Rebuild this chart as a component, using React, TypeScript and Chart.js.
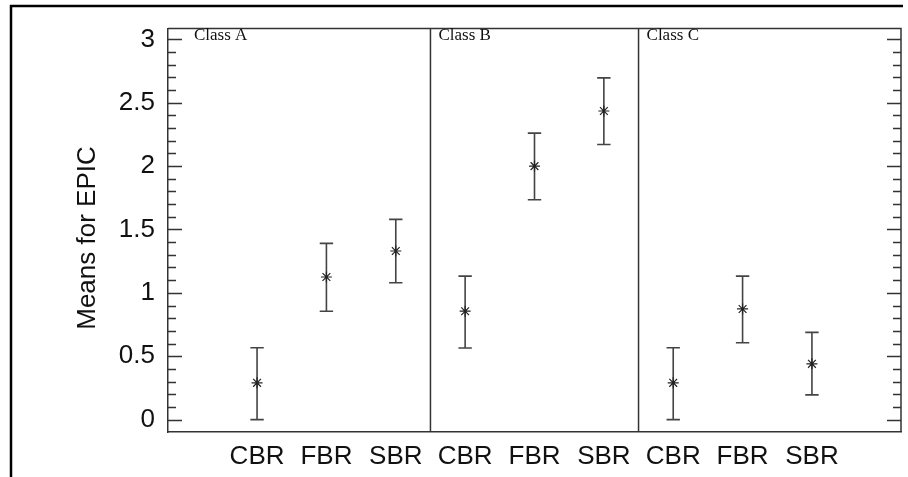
import React, { useEffect, useRef } from 'react';
import { Chart, registerables } from 'chart.js';
Chart.register(...registerables);

const categories = ['CBR', 'FBR', 'SBR', 'CBR', 'FBR', 'SBR', 'CBR', 'FBR', 'SBR'];
const means = [0.29, 1.125, 1.33, 0.855, 2.0, 2.435, 0.29, 0.873, 0.44];
const lower = [0.0, 0.855, 1.08, 0.565, 1.735, 2.17, 0.0, 0.606, 0.195];
const upper = [0.567, 1.39, 1.58, 1.132, 2.26, 2.696, 0.567, 1.132, 0.688];
const panels = ['Class A', 'Class B', 'Class C'];
const panelStarts = [-1.284, 2.5, 5.5];
const separators = [2.5, 5.5];
const yTicks = [0, 0.5, 1, 1.5, 2, 2.5, 3];
const yMinorStep = 0.1;
const yTitle = 'Means for EPIC';

const SANS = '"Liberation Sans", Arial, sans-serif';
const SERIF = '"Liberation Serif", "Times New Roman", serif';

export default function App() {
  const ref = useRef<HTMLCanvasElement>(null);
  useEffect(() => {
    const canvas = ref.current!;
    const plugin = {
      id: 'custom',
      beforeDatasetsDraw(chart: any) {
        const { ctx, chartArea: a, scales } = chart;
        const x = scales.x, y = scales.y;
        ctx.save();
        ctx.strokeStyle = '#333';
        ctx.lineWidth = 1.5;
        // top and right borders
        ctx.beginPath();
        ctx.moveTo(a.left, a.top);
        ctx.lineTo(a.right, a.top);
        ctx.lineTo(a.right, a.bottom);
        ctx.stroke();
        // separators
        separators.forEach((s) => {
          const px = x.getPixelForValue(s);
          ctx.beginPath();
          ctx.moveTo(px, a.top);
          ctx.lineTo(px, a.bottom);
          ctx.stroke();
        });
        // y ticks inward, both sides
        const n = Math.round(3 / yMinorStep);
        for (let k = 0; k <= n; k++) {
          const v = k * yMinorStep;
          const py = Math.round(y.getPixelForValue(v)) + 0.5;
          const major = k % 5 === 0;
          const len = major ? 14 : 8;
          ctx.beginPath();
          ctx.moveTo(a.left, py);
          ctx.lineTo(a.left + len, py);
          ctx.moveTo(a.right, py);
          ctx.lineTo(a.right - len, py);
          ctx.stroke();
        }
        // error bars
        ctx.strokeStyle = '#444';
        ctx.lineWidth = 1.6;
        means.forEach((_, i) => {
          const px = x.getPixelForValue(i);
          const pl = y.getPixelForValue(lower[i]);
          const pu = y.getPixelForValue(upper[i]);
          ctx.beginPath();
          ctx.moveTo(px, pl);
          ctx.lineTo(px, pu);
          ctx.moveTo(px - 6.7, pl);
          ctx.lineTo(px + 6.7, pl);
          ctx.moveTo(px - 6.7, pu);
          ctx.lineTo(px + 6.7, pu);
          ctx.stroke();
        });
        ctx.restore();
      },
      afterDraw(chart: any) {
        const { ctx, scales } = chart;
        const x = scales.x;
        ctx.save();
        // outer frame (top and left)
        ctx.strokeStyle = '#000';
        ctx.lineWidth = 2.5;
        ctx.beginPath();
        ctx.moveTo(11, 477);
        ctx.lineTo(11, 6);
        ctx.lineTo(903, 6);
        ctx.stroke();
        // panel labels
        ctx.fillStyle = '#111';
        ctx.font = `17px ${SERIF}`;
        ctx.textBaseline = 'middle';
        ctx.textAlign = 'left';
        panels.forEach((p, i) => {
          const px = x.getPixelForValue(panelStarts[i]) + (i === 0 ? 26 : 8);
          ctx.fillText(p, px, 36);
        });
        // y title
        ctx.font = `26px ${SANS}`;
        ctx.textAlign = 'center';
        ctx.translate(88, 238);
        ctx.rotate(-Math.PI / 2);
        ctx.fillText(yTitle, 0, 0);
        ctx.restore();
      },
    };
    const chart = new Chart(canvas, {
      type: 'scatter',
      data: {
        datasets: [
          {
            data: means.map((m, i) => ({ x: i, y: m })),
            pointStyle: 'star',
            radius: 5.5,
            borderColor: '#222',
            backgroundColor: '#222',
            borderWidth: 1.2,
          } as any,
        ],
      },
      options: {
        animation: false,
        responsive: false,
        devicePixelRatio: 1,
        layout: { padding: { top: 19, right: 7, left: 0, bottom: 0 } },
        plugins: { legend: { display: false }, tooltip: { enabled: false } },
        scales: {
          x: {
            type: 'linear',
            min: -1.284,
            max: 9.284,
            grid: { display: false, drawTicks: false },
            border: { display: true, color: '#333', width: 1.5 },
            afterBuildTicks: (s: any) => {
              s.ticks = categories.map((_, i) => ({ value: i }));
            },
            afterFit: (s: any) => {
              s.height = 45;
            },
            ticks: {
              autoSkip: false,
              maxRotation: 0,
              padding: 9,
              color: '#111',
              font: { family: SANS, size: 26 },
              callback: (v: any) => categories[v] ?? '',
            },
          },
          y: {
            type: 'linear',
            min: -0.098,
            max: 3.085,
            grid: { display: false, drawTicks: false },
            border: { display: true, color: '#333', width: 1.5 },
            afterBuildTicks: (s: any) => {
              s.ticks = yTicks.map((v) => ({ value: v }));
            },
            afterFit: (s: any) => {
              s.width = 168;
            },
            ticks: {
              padding: 13,
              color: '#111',
              font: { family: SANS, size: 26 },
              callback: (v: any) => String(v),
            },
          },
        },
      },
      plugins: [plugin],
    } as any);
    return () => chart.destroy();
  }, []);
  return (
    <div style={{ position: 'fixed', left: 0, top: 0, width: 908, height: 477, background: '#fff' }}>
      <canvas ref={ref} width={908} height={477} style={{ display: 'block' }} />
    </div>
  );
}
